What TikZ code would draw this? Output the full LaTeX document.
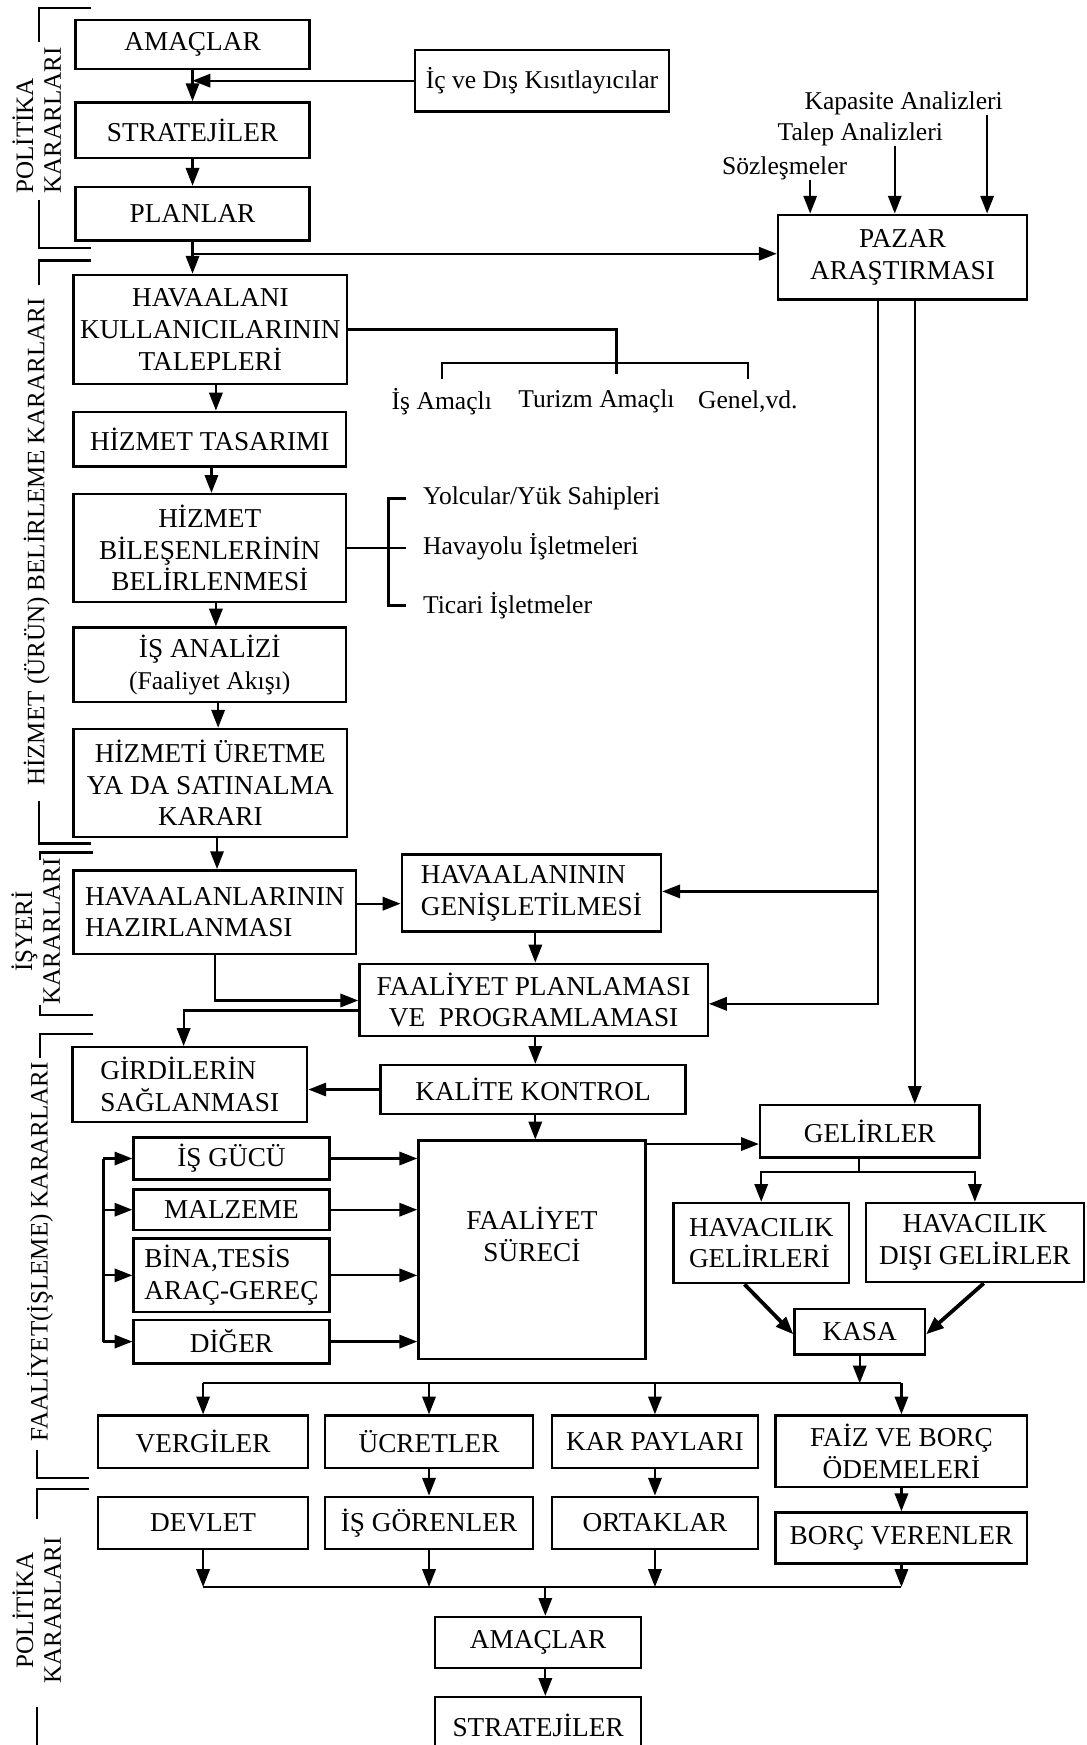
\documentclass[tikz,border=0pt]{standalone}
\usepackage{fontspec}
\setmainfont{Liberation Serif}
\usetikzlibrary{arrows.meta}
\newcommand\mkbox[7][]{%
  \node[box,#1,minimum width={(#5)-(#3)},minimum height={(#6)-(#4)}] (#2) at ({((#3)+(#5))/2},{((#4)+(#6))/2}) {#7};}
\tikzset{
  box/.style={draw, line width=2.2pt, inner sep=0pt, align=center, font=\fontsize{24.5}{28.5}\selectfont},
  ln/.style={line width=2pt},
  arr/.style={ln, -{Triangle[length=16pt,width=12pt]}},
  lbl/.style={inner sep=0pt, font=\fontsize{23}{28}\selectfont},
  side/.style={rotate=90, inner sep=0pt, font=\fontsize{22.5}{25}\selectfont},
  brk/.style={line width=2.2pt},
}
\begin{document}
\begin{tikzpicture}[x=1pt,y=-1pt]
\useasboundingbox (0,0) rectangle (976,1568);

% ---------- boxes ----------
\mkbox{amac1}{68}{18}{278}{62}{AMAÇLAR}
\mkbox[font=\fontsize{23}{28}\selectfont]{kisit}{373}{45}{601}{100}{İç ve Dış Kısıtlayıcılar}
\mkbox{strat1}{68}{92}{278}{142}{STRATEJİLER}
\mkbox{plan}{68}{168}{278}{216}{PLANLAR}
\mkbox{pazar}{699}{193}{923}{269}{PAZAR\\ARAŞTIRMASI}
\mkbox{talep}{66}{247}{312}{345}{HAVAALANI\\KULLANICILARININ\\TALEPLERİ}
\mkbox{tasarim}{66}{370}{311}{419}{HİZMET TASARIMI}
\mkbox{bilesen}{66}{444}{311}{541}{HİZMET\\BİLEŞENLERİNİN\\BELİRLENMESİ}
\mkbox{isanaliz}{66}{564}{311}{631}{İŞ ANALİZİ\\{\fontsize{23}{28}\selectfont(Faaliyet Akışı)}}
\mkbox{uretme}{66}{655}{312}{752}{HİZMETİ ÜRETME\\YA DA SATINALMA\\KARARI}
\mkbox[align=left]{hazir}{66}{782}{320}{857}{HAVAALANLARININ\\HAZIRLANMASI}
\mkbox[align=left]{genis}{361}{768}{594}{837}{HAVAALANININ\\GENİŞLETİLMESİ}
\mkbox{fplan}{323}{866}{636}{931}{FAALİYET PLANLAMASI\\VE\ \ PROGRAMLAMASI}
\mkbox[align=left]{girdi}{65}{941}{276}{1008}{GİRDİLERİN\\SAĞLANMASI}
\mkbox{kalite}{342}{957}{616}{1001}{KALİTE KONTROL}
\mkbox{gelir}{683}{993}{880}{1040}{GELİRLER}
\mkbox{isgucu}{120}{1022}{296}{1060}{İŞ GÜCÜ}
\mkbox{malzeme}{120}{1069}{296}{1105}{MALZEME}
\mkbox[align=left]{bina}{120}{1113}{296}{1179}{BİNA,TESİS\\ARAÇ-GEREÇ}
\mkbox{diger}{120}{1186}{296}{1225}{DİĞER}
\mkbox{surec}{376}{1025}{580}{1221}{\raisebox{10pt}[\height][\depth]{\begin{tabular}{@{}c@{}}FAALİYET\\SÜRECİ\end{tabular}}}
\mkbox[align=left]{hav1}{605}{1081}{763}{1153}{HAVACILIK\\GELİRLERİ}
\mkbox{hav2}{778}{1081}{974}{1152}{HAVACILIK\\DIŞI GELİRLER}
\mkbox{kasa}{714}{1176}{831}{1217}{KASA}
\mkbox{vergi}{88}{1272}{277}{1319}{VERGİLER}
\mkbox{ucret}{292}{1272}{479}{1319}{ÜCRETLER}
\mkbox{kar}{496}{1272}{681}{1319}{KAR PAYLARI}
\mkbox{faiz}{697}{1272}{923}{1336}{FAİZ VE BORÇ\\ÖDEMELERİ}
\mkbox{devlet}{88}{1345}{277}{1392}{DEVLET}
\mkbox{isgoren}{292}{1345}{479}{1392}{İŞ GÖRENLER}
\mkbox{ortak}{496}{1345}{681}{1392}{ORTAKLAR}
\mkbox{borc}{697}{1359}{923}{1405}{BORÇ VERENLER}
\mkbox{amac2}{391}{1453}{576}{1499}{AMAÇLAR}
\mkbox{strat2}{391}{1525}{576}{1575}{STRATEJİLER}

% ---------- free text labels ----------
\node[lbl] (kapa) at (812,93) {Kapasite Analizleri};
\node[lbl] (talepA) at (773,121) {Talep Analizleri};
\node[lbl] (soz) at (705,151) {Sözleşmeler};
\node[lbl] (isam) at (397,361) {İş Amaçlı};
\node[lbl] (turizm) at (536,361) {Turizm Amaçlı};
\node[lbl] (genel) at (672,361) {Genel,vd.};
\node[lbl, anchor=west] (yolcu) at (380,448) {Yolcular/Yük Sahipleri};
\node[lbl, anchor=west] (havay) at (380,491) {Havayolu İşletmeleri};
\node[lbl, anchor=west] (ticari) at (380,544) {Ticari İşletmeler};

% ---------- side labels ----------
\node[side, anchor=west, align=left] (lab1) at (33,174) {POLİTİKA\\KARARLARI};
\node[side] (lab2) at (33,487) {HİZMET (ÜRÜN) BELİRLEME KARARLARI};
\node[side, align=center] (lab3) at (32,837) {İŞYERİ\\KARARLARI};
\node[side] (lab4) at (36,1125) {FAALİYET(İŞLEME) KARARLARI};
\node[side, align=center] (lab5) at (33,1447) {POLİTİKA\\KARARLARI};

\draw[brk] (82,7) -- (35,7) -- (35,38);
\draw[brk] (35,180) -- (35,223) -- (82,223);
\draw[brk] (82,234) -- (35,234) -- (35,256);
\draw[brk] (35,720) -- (35,758) -- (82,758);
\draw[brk] (84,766) -- (36,766) -- (36,773);
\draw[brk] (36,903) -- (36,912) -- (84,912);
\draw[brk] (84,929) -- (36,929) -- (36,951);
\draw[brk] (33,1303) -- (33,1328) -- (80,1328);
\draw[brk] (80,1338) -- (33,1338) -- (33,1365);
\draw[brk] (33,1534) -- (33,1572);

% ---------- connectors ----------
\draw[arr] (amac1) -- (strat1);
\draw[arr] (kisit.west) -- (kisit.west -| amac1.south);
\draw[arr] (strat1) -- (plan);
\draw[arr] (plan.south) -- (plan.south |- talep.north);
\draw[arr] (plan.south |- 0,228) -- (pazar.west |- 0,228);

\draw[arr] (kapa.south -| 887,0) -- (pazar.north -| 887,0);
\draw[arr] (talepA.south -| 804,0) -- (pazar.north -| 804,0);
\draw[arr] (soz.south -| 728,0) -- (pazar.north -| 728,0);

\draw[ln] (talep.east) -| (554,336);
\draw[ln] (isam.north |- 0,341) |- (genel.north |- 0,326) -- (genel.north |- 0,341);

\draw[arr] (talep.south -| 194,0) -- (tasarim.north -| 194,0);
\draw[arr] (tasarim.south -| 190,0) -- (bilesen.north -| 190,0);
\draw[ln] (bilesen.east) -- (bilesen.east -| 365,0);
\draw[ln] (yolcu.west -| 365,0) -| (349,0 |- ticari.west) -- (ticari.west -| 365,0);

\draw[arr] (bilesen.south -| 194,0) -- (isanaliz.north -| 194,0);
\draw[arr] (isanaliz.south -| 196,0) -- (uretme.north -| 196,0);
\draw[arr] (uretme.south -| 195,0) -- (hazir.north -| 195,0);
\draw[arr] (hazir.east |- 0,812) -- (genis.west |- 0,812);

\coordinate (pj) at (789,801);
\draw[arr] (pazar.south -| pj) |- (fplan.east |- 0,902);
\draw[arr] (pj) -- (genis.east |- pj);
\draw[arr] (pazar.south -| 822,0) -- (gelir.north -| 822,0);

\draw[arr] (genis.south -| 481,0) -- (fplan.north -| 481,0);
\draw[arr] (hazir.south -| 193,0) |- (fplan.west |- 0,899);
\draw[arr] (fplan.west |- 0,908) -| (girdi.north -| 165,0);
\draw[arr] (fplan.south -| 481,0) -- (kalite.north -| 481,0);
\draw[arr] (kalite.west) -- (kalite.west -| girdi.east);
\draw[arr] (kalite.south -| 481,0) -- (surec.north -| 481,0);
\draw[arr] (surec.east |- 0,1028) -- (gelir.west |- 0,1028);

\coordinate (gj) at (772,1053);
\draw[ln] (gelir.south -| gj) -- (gj);
\draw[arr] (gj) -| (hav1.north);
\draw[arr] (gj) -| (hav2.north);
\draw[arr, line width=3.4pt] (hav1.south -| 669,0) -- (kasa.west |- 0,1199);
\draw[arr, line width=3.4pt] (hav2.south -| 884,0) -- (kasa.east |- 0,1199);

\draw[ln] (isgucu.west -| 93,0) -- (diger.west -| 93,0);
\foreach \nm in {isgucu,malzeme,bina,diger}{
  \draw[arr] (\nm.west -| 93,0) -- (\nm.west);
  \draw[arr] (\nm.east) -- (\nm.east -| surec.west);
}

\coordinate (kj) at (kasa.south |- 0,1243);
\draw[arr] (kasa.south) -- (kj);
\draw[ln] (vergi.north |- kj) -- (faiz.north |- kj);
\foreach \nm in {vergi,ucret,kar,faiz}{
  \draw[arr] (\nm.north |- kj) -- (\nm.north);
}
\draw[arr] (ucret) -- (isgoren);
\draw[arr] (kar) -- (ortak);
\draw[arr] (faiz) -- (borc);

\coordinate (bj) at (490,1426);
\foreach \nm in {devlet,isgoren,ortak,borc}{
  \draw[arr] (\nm.south) -- (\nm.south |- bj);
}
\draw[ln] (devlet.south |- bj) -- (borc.south |- bj);
\draw[arr] (bj) -- (amac2.north -| bj);
\draw[arr] (amac2.south -| bj) -- (strat2.north -| bj);
\end{tikzpicture}
\end{document}
